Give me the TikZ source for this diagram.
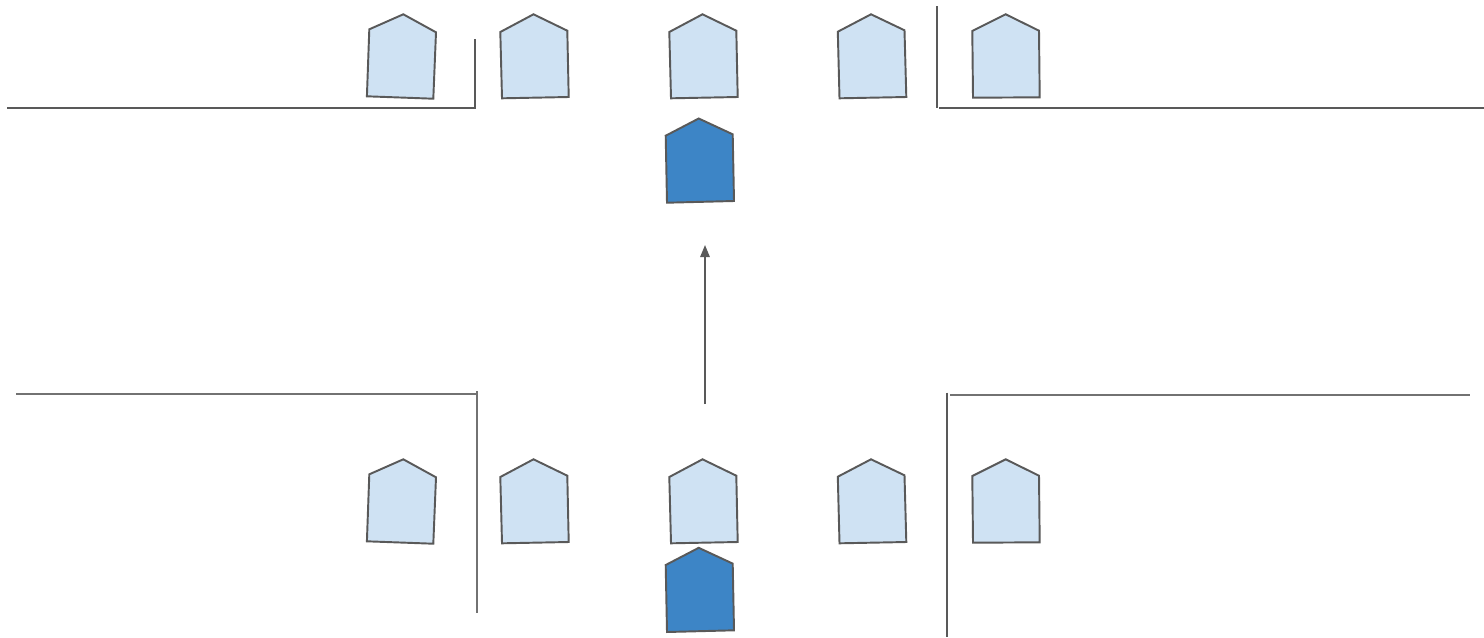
\documentclass[tikz,border=0pt]{standalone}
\usetikzlibrary{arrows.meta}
\definecolor{strokegrey}{HTML}{595959}
\definecolor{lightcar}{HTML}{CFE2F3}
\definecolor{darkcar}{HTML}{3D85C6}
\tikzset{
  carlight/.style={draw=strokegrey,fill=lightcar,line width=1.45pt,line join=miter},
  cardark/.style={draw=strokegrey,fill=darkcar,line width=1.45pt,line join=miter},
  wall/.style={draw=strokegrey,line width=1.45pt},
  wallsoft/.style={draw=strokegrey!85,line width=1.45pt},
  motion/.style={draw=strokegrey,line width=1.45pt,-{Triangle[length=9pt,width=7pt]}}
}
\newcommand{\carrow}[1]{%
  \begin{scope}[shift={(0,#1)}]
    \draw[carlight] (403.3,14.3) -- (436,32.3) -- (433.3,98.7) -- (366.9,96.3) -- (369.3,29.3) -- cycle;
    \draw[carlight] (533.5,14.3) -- (567.3,30.7) -- (568.7,97) -- (502,98.3) -- (500.3,32) -- cycle;
    \draw[carlight] (702.5,14.3) -- (736.3,30.7) -- (737.7,97) -- (671,98.3) -- (669.3,32) -- cycle;
    \draw[carlight] (871,14.3) -- (904.5,30.3) -- (906.3,97) -- (839.5,98.3) -- (837.8,31.7) -- cycle;
    \draw[carlight] (1005.7,14.3) -- (1039,30.7) -- (1039.7,97.3) -- (973,97.7) -- (972.3,31) -- cycle;
  \end{scope}}
\newcommand{\cardarkat}[1]{%
  \draw[cardark,shift={(0,#1)}] (698.7,118.5) -- (732.7,134.3) -- (734,201) -- (667,202.7) -- (665.7,135.7) -- cycle;}
\begin{document}
\begin{tikzpicture}[x=0.75pt,y=-0.75pt]
  \useasboundingbox (0,0) rectangle (1484,637);
  \fill[white] (0,0) rectangle (1484,637);
  % cars
  \carrow{0}
  \carrow{445}
  \cardarkat{0}
  \cardarkat{429.3}
  % walls, top
  \coordinate (tlA) at (7,108);
  \coordinate (tlB) at (475,108);
  \coordinate (tlC) at (475,39);
  \draw[wall] (tlA) -- (tlB) -- (tlC);
  \coordinate (trA) at (937,6);
  \coordinate (trB) at (937,107.5);
  \draw[wall] (trA) -- (trB);
  \coordinate (trC) at (939,108);
  \coordinate (trD) at (1484,108);
  \draw[wall] (trC) -- (trD);
  % walls, bottom
  \coordinate (blA) at (16,394);
  \coordinate (blB) at (476.5,394);
  \draw[wallsoft] (blA) -- (blB);
  \coordinate (blC) at (476.6,391);
  \coordinate (blD) at (476.6,612.5);
  \draw[wallsoft] (blC) -- (blD);
  \coordinate (brA) at (947,392.5);
  \coordinate (brB) at (947,637);
  \draw[wall] (brA) -- (brB);
  \coordinate (brC) at (950,395);
  \coordinate (brD) at (1470,395);
  \draw[wallsoft] (brC) -- (brD);
  % arrow
  \coordinate (arrowstart) at (705,404);
  \coordinate (arrowend) at (705,245);
  \draw[motion] (arrowstart) -- (arrowend);
\end{tikzpicture}
\end{document}
